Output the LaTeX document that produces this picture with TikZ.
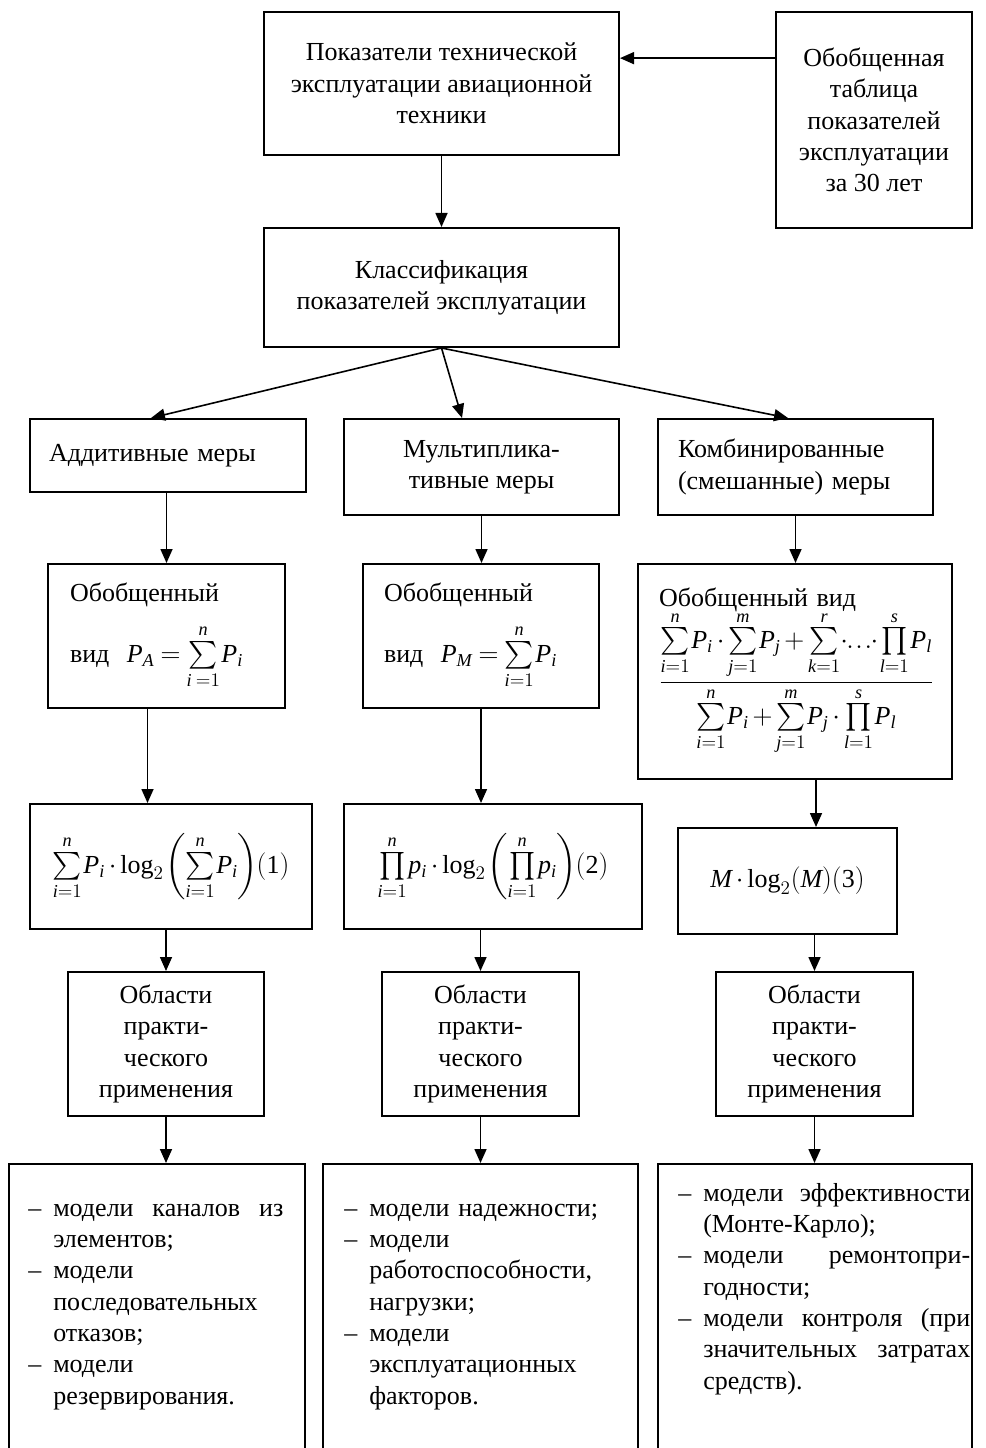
\documentclass[tikz,border=0pt]{standalone}
\usepackage{amsmath}
\usepackage{fontspec}
\setmainfont{Liberation Serif}
\usepackage{tikz}
\usetikzlibrary{arrows.meta, positioning, calc}
% math letters in the text italic
\DeclareSymbolFont{bukvy}{TU}{\rmdefault}{m}{it}
\DeclareMathSymbol{A}{\mathalpha}{bukvy}{`A}
\DeclareMathSymbol{M}{\mathalpha}{bukvy}{`M}
\DeclareMathSymbol{P}{\mathalpha}{bukvy}{`P}
\DeclareMathSymbol{p}{\mathalpha}{bukvy}{`p}
\DeclareMathSymbol{i}{\mathalpha}{bukvy}{`i}
\DeclareMathSymbol{j}{\mathalpha}{bukvy}{`j}
\DeclareMathSymbol{k}{\mathalpha}{bukvy}{`k}
\DeclareMathSymbol{l}{\mathalpha}{bukvy}{`l}
\DeclareMathSymbol{m}{\mathalpha}{bukvy}{`m}
\DeclareMathSymbol{n}{\mathalpha}{bukvy}{`n}
\DeclareMathSymbol{r}{\mathalpha}{bukvy}{`r}
\DeclareMathSymbol{s}{\mathalpha}{bukvy}{`s}
\newcommand{\tesno}{\thinmuskip=1mu\relax\medmuskip=2.5mu\relax\thickmuskip=4mu\relax}
\tikzset{>={Triangle[length=10.5pt,width=9pt]}}
\tikzset{
    blok/.style={draw, line width=1.5pt, inner sep=0pt, align=center,
        font=\fontsize{19.5}{23.5}\selectfont\tesno},
    razm/.style 2 args={minimum width=#1*0.75pt, minimum height=#2*0.75pt},
    levo/.style 2 args={text width=#1*0.75pt, inner xsep=#2*0.75pt, align=left},
    spisok/.style={inner sep=0pt, anchor=north west, align=left,
        font=\fontsize{19.5}{23.5}\selectfont},
    strel/.style={->, line width=1.2pt}
}
\newcommand{\tire}{\makebox[18.75pt][l]{–}}
\newcommand{\otst}{\hspace*{18.75pt}}

\begin{document}
\begin{tikzpicture}[x=0.75pt, y=-0.75pt]
    \useasboundingbox (0,0) rectangle (985,1448);
    % top
    \node[blok, razm={355}{143}] (pok) at (441.5,83.5)
        {Показатели технической\\эксплуатации авиационной\\техники};
    \node[blok, razm={196}{216}] (tabl) at (874,120)
        {Обобщенная\\таблица\\показателей\\эксплуатации\\за 30 лет};
    \node[blok, razm={355}{119}] (klass) at (441.5,287.5)
        {Классификация\\показателей эксплуатации};
    % measures
    \node[blok, razm={276}{73}, levo={238}{19}] (add) at (168,455.5) {Аддитивные меры};
    \node[blok, razm={275}{96}] (mult) at (481.5,467) {Мультиплика-\\тивные меры};
    \node[blok, razm={275}{96}, levo={235}{20}] (komb) at (795.5,467)
        {Комбинированные\\(смешанные) меры};
    % general form
    \node[blok, razm={237}{144}, levo={193}{22}] (obA) at (166.5,636)
        {Обобщенный\\[12pt]вид\ \ $P_A=\sum\limits_{i\;=1}^{n}P_i$};
    \node[blok, razm={236}{144}, levo={194}{21}] (obM) at (481,636)
        {Обобщенный\\[12pt]вид\ \ $P_M=\sum\limits_{i=1}^{n}P_i$};
    \node[blok, razm={314}{215}, levo={272}{21}] (obK) at (795,671.5)
        {Обобщенный вид\\[-2pt]
        $\dfrac{\sum\limits_{i=1}^{n}P_i\cdot\sum\limits_{j=1}^{m}P_j+\sum\limits_{k=1}^{r}\mkern-1mu{\cdot}\mkern-1mu{.\mkern1mu.\mkern1mu.}\mkern-1mu{\cdot}\prod\limits_{l=1}^{s}P_l}
        {\sum\limits_{i=1}^{n}P_i+\sum\limits_{j=1}^{m}P_j\cdot\prod\limits_{l=1}^{s}P_l}$};
    % formulas
    \node[blok, razm={282}{125}] (fA) at (171,866.5)
        {$\sum\limits_{i=1}^{n}P_i\cdot\log_2\left(\sum\limits_{i=1}^{n}P_i\right)\mkern-2mu\mathrm{(1)}$};
    \node[blok, razm={298}{125}] (fM) at (493,866.5)
        {$\prod\limits_{i=1}^{n}p_i\cdot\log_2\left(\prod\limits_{i=1}^{n}p_i\right)\mkern-2mu\mathrm{(2)}$};
    \node[blok, razm={219}{106}] (fK) at (787.5,881)
        {$M\cdot\log_2(M)\mathrm{(3)}$};
    % areas
    \node[blok, razm={196}{144}] (oA) at (166,1044) {Области\\практи-\\ческого\\применения};
    \node[blok, razm={197}{144}] (oM) at (480.5,1044) {Области\\практи-\\ческого\\применения};
    \node[blok, razm={197}{144}] (oK) at (814.5,1044) {Области\\практи-\\ческого\\применения};
    % models
    \node[blok, razm={296}{300}, anchor=north] (vA) at (157,1163) {};
    \node[blok, razm={315}{300}, anchor=north] (vM) at (480.5,1163) {};
    \node[blok, razm={314}{300}, anchor=north] (vK) at (815,1163) {};
    \node[spisok, text width=191.25pt] (sA) at (28,1194)
        {\strut\tire модели\hfill каналов\hfill из\\
        \otst элементов;\\
        \tire модели\\
        \otst последовательных\\
        \otst отказов;\\
        \tire модели\\
        \otst резервирования.};
    \node[spisok, text width=210pt] (sM) at (344,1194)
        {\strut\tire модели надежности;\\
        \tire модели\\
        \otst работоспособности,\\
        \otst нагрузки;\\
        \tire модели\\
        \otst эксплуатационных\\
        \otst факторов.};
    \node[spisok, text width=219pt] (sK) at (678,1179)
        {\strut\tire модели\hfill эффективности\\
        \otst (Монте-Карло);\\
        \tire модели\hfill ремонтопри-\\
        \otst годности;\\
        \tire модели\hfill контроля\hfill (при\\
        \otst значительных\hfill затратах\\
        \otst средств).};
    % shifted ends
    \coordinate (t1) at (tabl.148.5);
    \coordinate (a1) at ([xshift=-12.75pt]add.north);
    \coordinate (m1) at ([xshift=-14.6pt]mult.north);
    \coordinate (k1) at ([xshift=-5.6pt]komb.north);
    \coordinate (a2) at ([xshift=-14.25pt]obA.south);
    \coordinate (k2) at ([xshift=15.75pt]obK.south);
    \path[strel]
        (t1)        edge (t1 -| pok.east)
        (pok.south) edge (klass.north)
        (klass.south) edge (a1)
                    edge (m1)
                    edge (k1)
        (obA.north |- add.south) edge (obA.north)
        (mult.south) edge (mult.south |- obM.north)
        (komb.south) edge (komb.south |- obK.north)
        (a2)        edge (a2 |- fA.north)
        (obM.south) edge (obM.south |- fM.north)
        (k2)        edge (k2 |- fK.north)
        (oA.north |- fA.south) edge (oA.north)
        (oM.north |- fM.south) edge (oM.north)
        (oK.north |- fK.south) edge (oK.north)
        (oA.south)  edge (oA.south |- vA.north)
        (oM.south)  edge (oM.south |- vM.north)
        (oK.south)  edge (oK.south |- vK.north)
    ;
\end{tikzpicture}
\end{document}
